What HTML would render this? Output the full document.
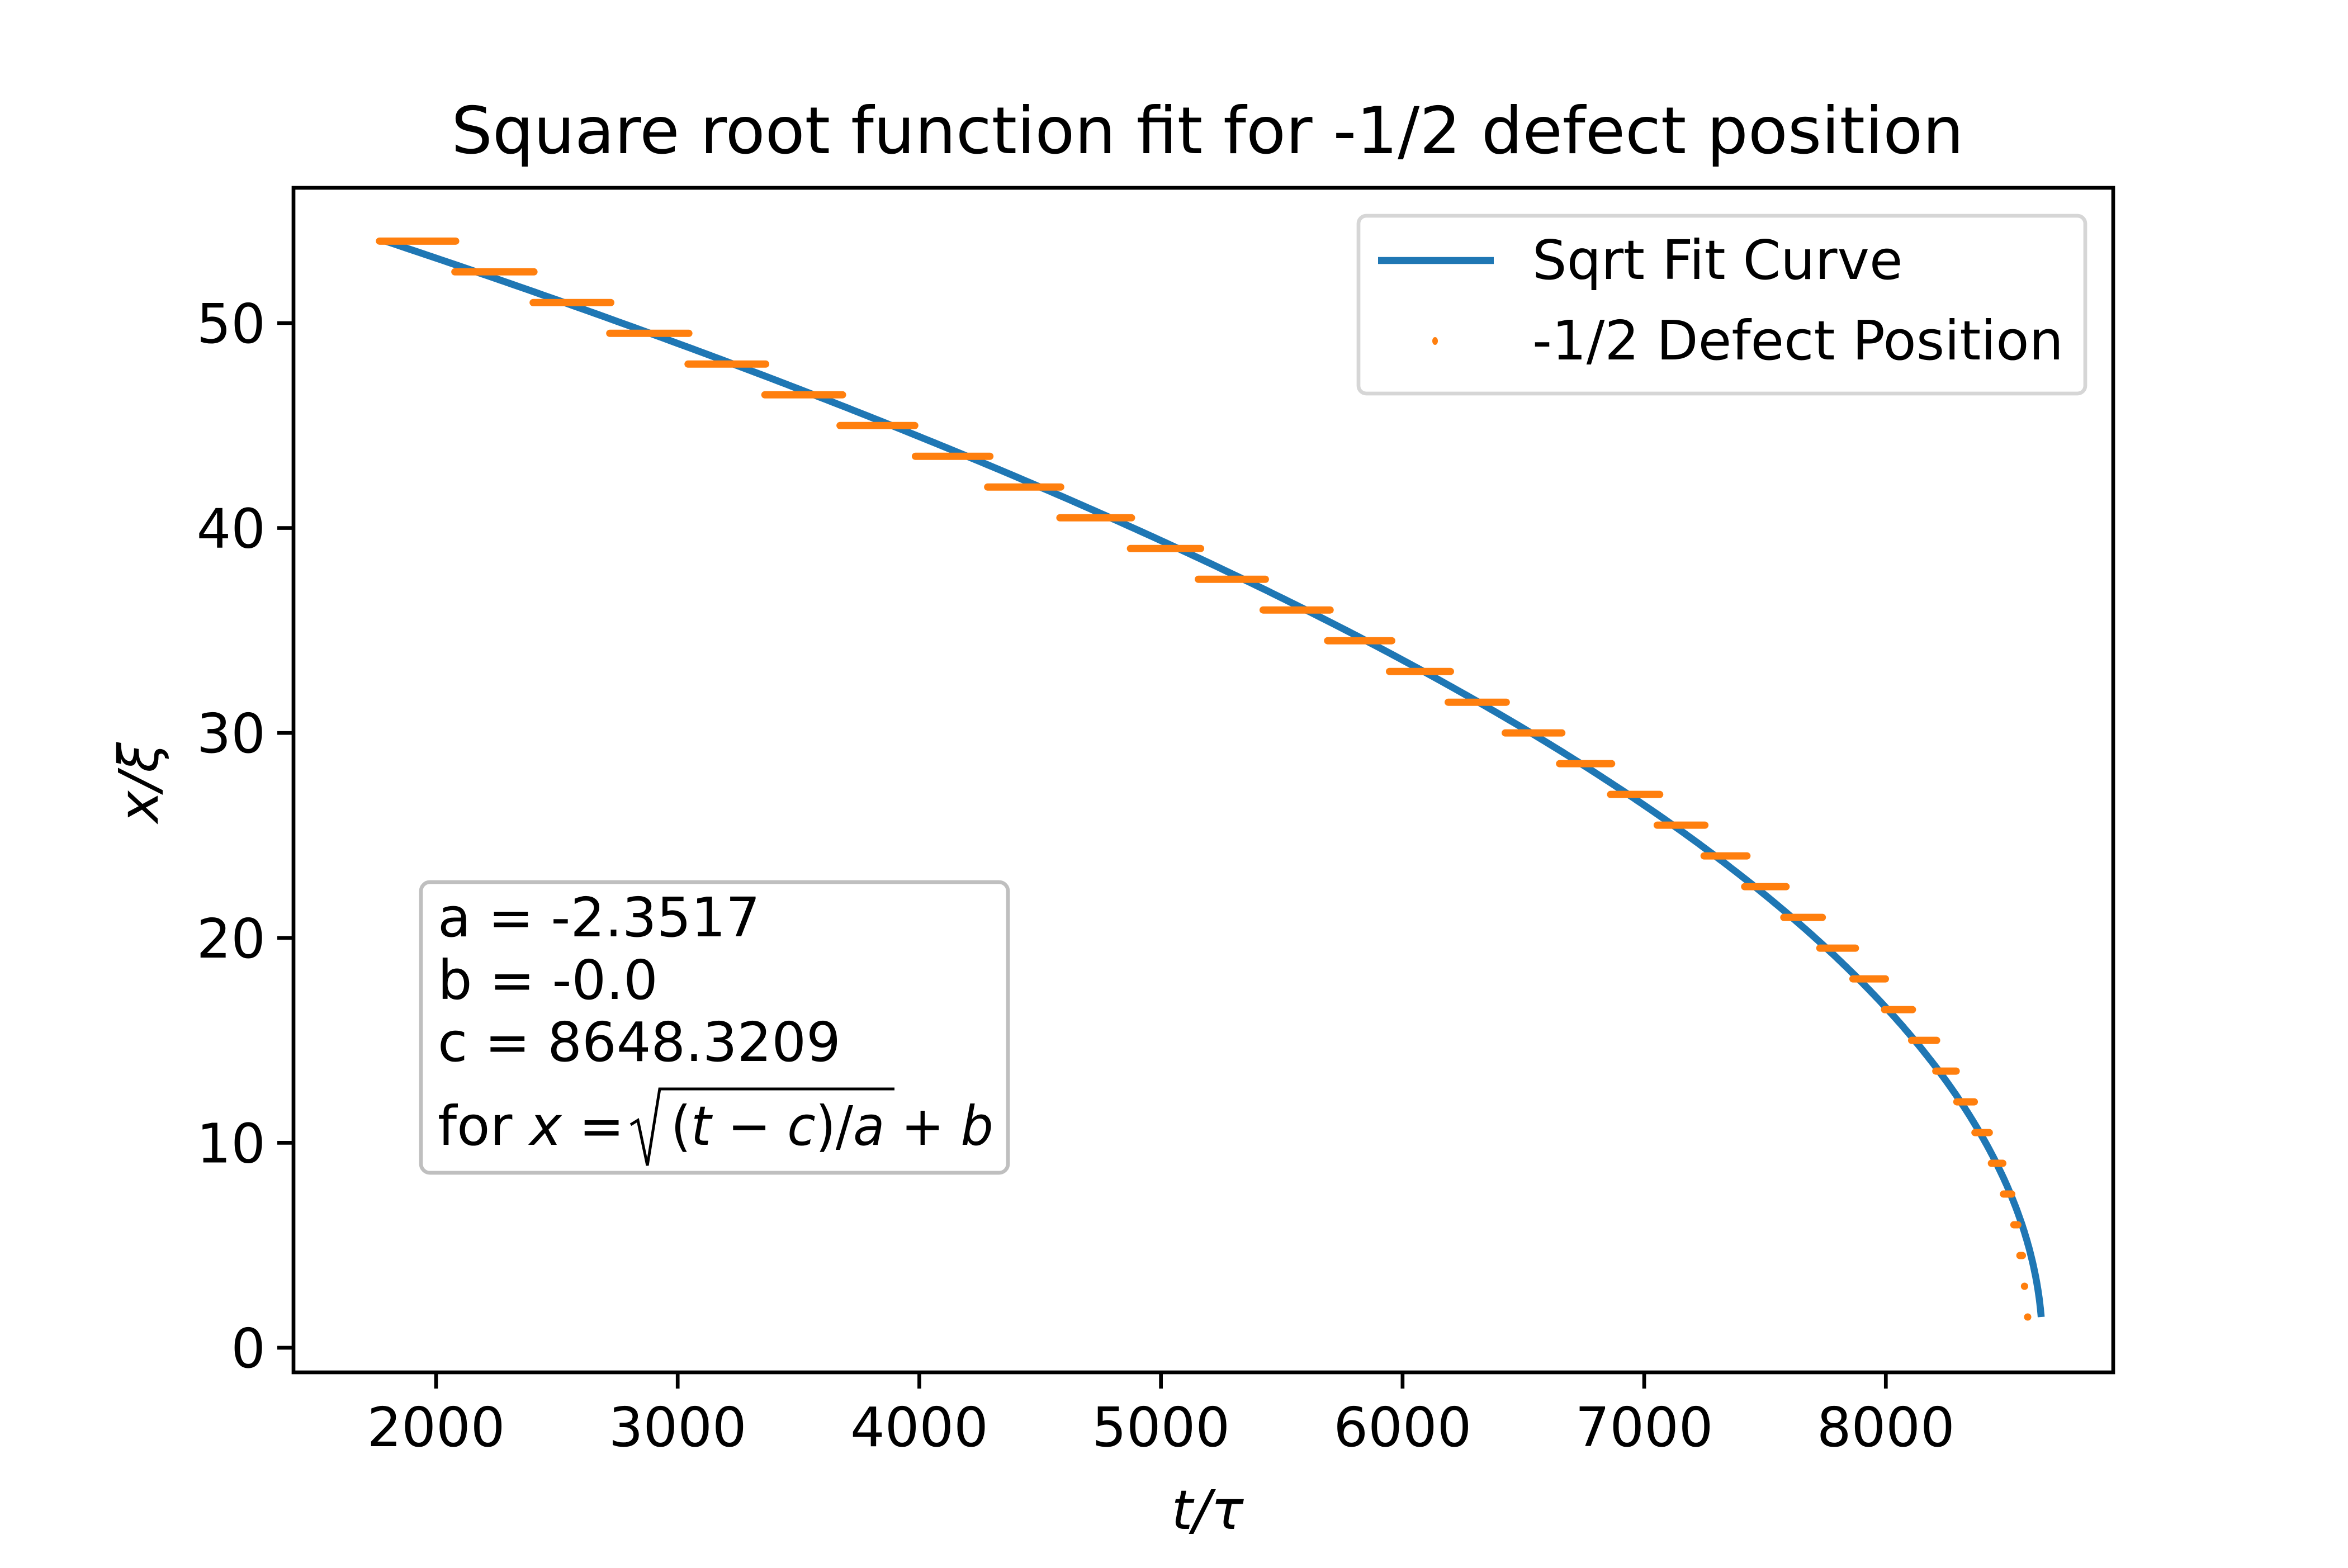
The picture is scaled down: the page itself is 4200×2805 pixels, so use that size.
<!DOCTYPE html>
<html><head><meta charset="utf-8"><style>
html,body{margin:0;padding:0;background:#fff;}
svg text{font-family:"DejaVu Sans","Liberation Sans",sans-serif;}
</style></head><body>
<svg id="chart" width="4200" height="2800" viewBox="0 0 4200 2800" xmlns="http://www.w3.org/2000/svg">
<rect width="4200" height="2800" fill="#fff"/>
<text x="2160" y="274" font-size="116" text-anchor="middle">Square root function fit for -1/2 defect position</text>
<g id="plot"></g>
<rect x="525" y="336" width="3255" height="2119" fill="none" stroke="#000" stroke-width="6.7"/>
<g id="xticks"></g>
<g id="yticks"></g>
<text x="2160" y="2735" font-size="97" text-anchor="middle" font-style="italic">t/τ</text>
<text transform="translate(282,1400) rotate(-90)" font-size="97" text-anchor="middle" font-style="italic">x/ξ</text>
<g>
<rect x="2430" y="386" width="1300" height="318" rx="14" fill="#fff" fill-opacity="0.8" stroke="#d6d6d6" stroke-width="6.7"/>
<line x1="2465" y1="466" x2="2672" y2="466" stroke="#1f77b4" stroke-width="12.5"/>
<text x="2741" y="499" font-size="97">Sqrt Fit Curve</text>
<ellipse cx="2567" cy="610" rx="5" ry="7" fill="#ff7f0e"/>
<text x="2741" y="643" font-size="97">-1/2 Defect Position</text>
</g>
<g>
<rect x="753" y="1578" width="1050" height="520" rx="16" fill="#fff" stroke="#bfbfbf" stroke-width="6.7"/>
<text x="783" y="1675" font-size="97">a = -2.3517</text>
<text x="783" y="1787" font-size="97">b = -0.0</text>
<text x="783" y="1898" font-size="97">c = 8648.3209</text>
<text x="783" y="2048" font-size="97">for <tspan font-style="italic">x</tspan> =</text>
<path d="M1128,2012 L1141,2004 L1158,2085 L1180,1948 L1600,1948" fill="none" stroke="#000" stroke-width="5"/>
<text x="1200" y="2048" font-size="97" textLength="577" lengthAdjust="spacingAndGlyphs">(<tspan font-style="italic">t</tspan> − <tspan font-style="italic">c</tspan>)/<tspan font-style="italic">a</tspan> + <tspan font-style="italic">b</tspan></text>
</g>
</svg>
<script>
// Tick values
const xTicks = [2000, 3000, 4000, 5000, 6000, 7000, 8000];
const yTicks = [0, 10, 20, 30, 40, 50];
// Fit parameters
const fitA = -2.3517;
const fitB = 0.0;
const fitC = 8648.3209;
const fitXRange = [1.5, 54];
// Defect position levels and time spans for each level
const defectLevels = [54,52.5,51,49.5,48,46.5,45,43.5,42,40.5,39,37.5,36,34.5,33,31.5,30,28.5,27,25.5,24,22.5,21,19.5,18,16.5,15,13.5,12,10.5,9,7.5,6,4.5,3,1.5];
const defectTStart = [1752,2064,2388,2705,3029,3347,3658,3970,4269,4568,4860,5141,5409,5676,5932,6175,6411,6636,6847,7040,7234,7402,7564,7713,7850,7981,8093,8193,8280,8355,8423,8473,8516,8541,8560,8573];
const defectTEnd = [2095,2419,2737,3060,3378,3696,3995,4306,4599,4892,5178,5446,5714,5969,6212,6443,6673,6879,7078,7265,7439,7601,7751,7888,8012,8124,8224,8305,8380,8442,8498,8535,8560,8579,8585,8591];

const NS = 'http://www.w3.org/2000/svg';
const X0 = 525, X1 = 3780, Y0 = 336, Y1 = 2455;
const xMin = 1410, xMax = 8941, yMin = -1.2, yMax = 56.6;
function sx(v){ return X0 + (v - xMin) / (xMax - xMin) * (X1 - X0); }
function sy(v){ return Y1 - (v - yMin) / (yMax - yMin) * (Y1 - Y0); }
function mk(tag, attrs, parent){ const e = document.createElementNS(NS, tag); for (const k in attrs) e.setAttribute(k, attrs[k]); parent.appendChild(e); return e; }

const plot = document.getElementById('plot');
let pts = [];
for (let i = 0; i <= 400; i++) {
  const x = fitXRange[1] - (fitXRange[1] - fitXRange[0]) * i / 400;
  const t = fitC + fitA * Math.pow(x - fitB, 2);
  pts.push(sx(t).toFixed(1) + ',' + sy(x).toFixed(1));
}
const curve = mk('polyline', {points: pts.join(' '), fill: 'none', stroke: '#1f77b4', 'stroke-width': 12.5, 'stroke-linejoin': 'round'}, plot);


defectLevels.forEach((lv, i) => {
  const xa = sx(defectTStart[i]) + 6, xb = Math.max(sx(defectTEnd[i]) - 6, xa + 0.1);
  const s = mk('line', {x1: xa, x2: xb, y1: sy(lv), y2: sy(lv), stroke: '#ff7f0e', 'stroke-width': 13, 'stroke-linecap': 'round'}, plot);
  
  
});
const xg = document.getElementById('xticks');
xTicks.forEach(v => {
  const l = mk('line', {x1: sx(v), x2: sx(v), y1: Y1, y2: Y1 + 29, stroke: '#000', 'stroke-width': 6.7}, xg);
  
  
  const t = mk('text', {x: sx(v), y: Y1 + 132, 'font-size': 97, 'text-anchor': 'middle'}, xg);
  t.textContent = v;
  
  
});
const yg = document.getElementById('yticks');
yTicks.forEach(v => {
  const l = mk('line', {x1: X0 - 29, x2: X0, y1: sy(v), y2: sy(v), stroke: '#000', 'stroke-width': 6.7}, yg);
  
  
  const t = mk('text', {x: X0 - 50, y: sy(v) + 35, 'font-size': 97, 'text-anchor': 'end'}, yg);
  t.textContent = v;
  
  
});
</script>
</body></html>
